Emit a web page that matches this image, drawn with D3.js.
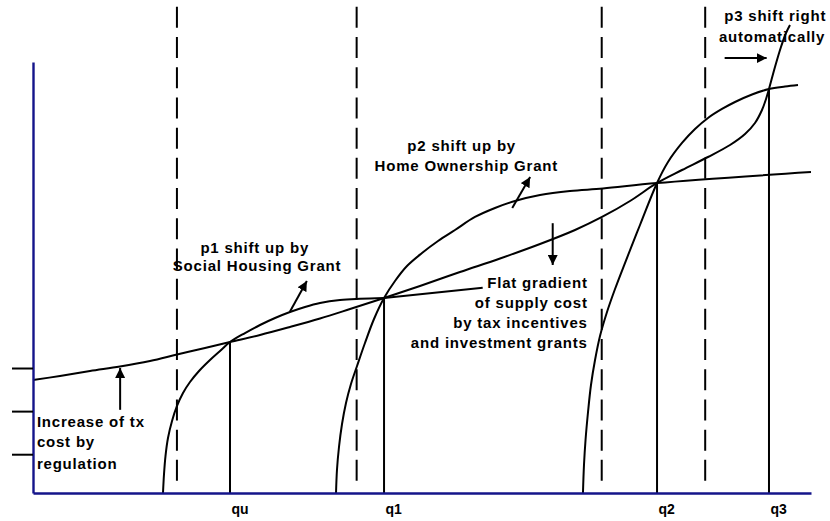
<!DOCTYPE html>
<html lang="en">
<head>
    <meta charset="UTF-8">
    <script src="https://d3js.org/d3.v7.min.js"></script>
    <title>Supply cost shifts</title>
    <style>
        body { margin: 0; background: #fff; }
        svg text {
            font-family: "Liberation Sans", Arial, sans-serif;
            font-size: 15px;
            font-weight: bold;
            letter-spacing: 0.8px;
            fill: #000;
        }
        .curve { fill: none; stroke: #000; stroke-width: 2; }
        .drop { stroke: #000; stroke-width: 2; }
        .dash { stroke: #000; stroke-width: 2; stroke-dasharray: 21 9.2; }
        .arrow { stroke: #000; stroke-width: 2; }
        .axis .domain { stroke: #14148a; stroke-width: 2.4; }
        .axis .tick line { stroke: #000; stroke-width: 2; }
        .axis .tick text { font-size: 14px; font-weight: bold; letter-spacing: 0; }
    </style>
</head>
<body>
<svg id="chart" width="830" height="521"></svg>
<script>
    // quantity (x) and cost (y) in arbitrary units, 0-100 on each axis
    const supplyBase = [[0, 26.22], [3.47, 27.15], [7.33, 28.31], [11.18, 29.35], [15.04, 30.63], [18.51, 32.13],
        [22.11, 33.64], [25.32, 35.03], [29.18, 36.66], [33.03, 38.52], [36.89, 40.49], [40.75, 42.69],
        [45.12, 45.24], [49.74, 48.03], [54.88, 51.28], [60.03, 54.41], [65.17, 57.77], [69.67, 61.02],
        [73.14, 64.04], [76.74, 67.75], [80.21, 71.93], [83.42, 74.94], [86.76, 77.96], [89.59, 80.74],
        [91.52, 83.29], [92.80, 85.85], [93.70, 88.86], [94.22, 91.42], [94.60, 93.74], [95.37, 98.84],
        [96.14, 103.48], [96.79, 106.73], [97.30, 108.58]];
    const p1Curve = [[16.71, 0], [16.84, 4.41], [17.03, 8.58], [17.35, 12.76], [17.87, 16.71], [18.51, 20.19],
        [19.28, 23.20], [20.18, 25.75], [21.34, 28.31], [22.75, 30.86], [24.04, 32.95], [25.32, 35.03],
        [27.25, 37.12], [29.18, 38.98], [31.11, 40.60], [33.03, 41.99], [34.96, 43.16], [36.89, 44.08],
        [39.46, 44.78], [42.03, 45.06], [45.12, 45.24]];
    const p2Curve = [[38.95, 0], [39.07, 5.34], [39.33, 10.67], [39.72, 16.01], [40.23, 20.88], [40.87, 25.29],
        [41.65, 29.47], [42.67, 34.80], [43.83, 40.37], [45.12, 45.24], [46.53, 49.19], [48.07, 52.67],
        [50.00, 55.68], [52.06, 58.47], [54.24, 61.02], [56.81, 64.04], [59.38, 66.13], [61.95, 67.75],
        [65.17, 69.14], [69.02, 70.07], [73.26, 70.65], [80.21, 71.93], [100, 74.48]];
    const p3Curve = [[70.69, 0], [70.82, 6.50], [71.02, 12.30], [71.34, 18.79], [71.72, 25.06], [72.24, 30.86],
        [72.88, 36.43], [73.78, 42.00], [74.81, 47.33], [76.09, 53.36], [78.02, 62.18], [80.21, 71.93],
        [81.62, 76.80], [83.42, 81.21], [85.09, 84.45], [86.76, 87.01], [88.56, 89.10], [90.23, 90.72],
        [92.42, 92.46], [94.60, 93.74], [96.66, 94.32], [98.33, 94.66]];

    const qNames = ["qu", "q1", "q2", "q3"];
    const qValues = [25.32, 45.12, 80.21, 94.60];
    const qCosts = [35.03, 45.24, 71.93, 93.74];
    const oldLimits = [18.5, 41.6, 73.1, 86.4];
    const costTicks = [9, 19, 29];

    const arrows = [
        [[11.2, 19.3], [11.2, 29.0]],
        [[33.0, 42.0], [35.2, 49.2]],
        [[61.6, 66.1], [63.9, 73.3]],
        [[66.8, 62.6], [66.8, 52.9]],
        [[88.9, 100.9], [94.3, 100.9]]
    ];
    const leader = [[45.12, 45.24], [57.8, 47.6]];

    const notes = [
        { text: "p1 shift up by", at: [28.5, 55.7], anchor: "middle" },
        { text: "Social Housing Grant", at: [28.8, 51.5], anchor: "middle" },
        { text: "p2 shift up by", at: [55.1, 79.4], anchor: "middle" },
        { text: "Home Ownership Grant", at: [55.7, 74.7], anchor: "middle" },
        { text: "Flat gradient", at: [71.3, 47.6], anchor: "end" },
        { text: "of supply cost", at: [71.3, 43.0], anchor: "end" },
        { text: "by tax incentives", at: [71.3, 38.3], anchor: "end" },
        { text: "and investment grants", at: [71.3, 33.6], anchor: "end" },
        { text: "p3 shift right", at: [95.4, 109.5], anchor: "middle" },
        { text: "automatically", at: [95.0, 104.6], anchor: "middle" },
        { text: "Increase of tx", at: [0.5, 15.3], anchor: "start" },
        { text: "cost by", at: [0.5, 10.6], anchor: "start" },
        { text: "regulation", at: [0.5, 5.6], anchor: "start" }
    ];

    const svg = d3.select("#chart");
    const x = d3.scaleLinear().domain([0, 100]).range([33, 811]);
    const y = d3.scaleLinear().domain([0, 100]).range([493, 62]);

    svg.append("defs").append("marker")
        .attr("id", "head")
        .attr("viewBox", "0 0 10 10")
        .attr("refX", 10).attr("refY", 5)
        .attr("markerWidth", 5).attr("markerHeight", 5)
        .attr("markerUnits", "strokeWidth")
        .attr("orient", "auto")
        .append("path").attr("d", "M0,0L10,5L0,10Z").attr("fill", "#000");

    // dashed limits
    svg.selectAll("line.dash").data(oldLimits).join("line")
        .attr("class", "dash")
        .attr("x1", d => x(d)).attr("x2", d => x(d))
        .attr("y1", y(112.8)).attr("y2", y(1.2));

    // drop lines at equilibrium quantities
    svg.selectAll("line.drop").data(qValues).join("line")
        .attr("class", "drop")
        .attr("x1", d => x(d)).attr("x2", d => x(d))
        .attr("y1", (d, i) => y(qCosts[i])).attr("y2", y(0));

    const line = d3.line().x(d => x(d[0])).y(d => y(d[1])).curve(d3.curveCatmullRom.alpha(0.5));
    [supplyBase, p1Curve, p2Curve, p3Curve].forEach(c => {
        svg.append("path").attr("class", "curve").attr("d", line(c));
    });
    svg.append("path").attr("class", "curve").attr("d", d3.line().x(d => x(d[0])).y(d => y(d[1]))(leader));

    svg.selectAll("line.arrow").data(arrows).join("line")
        .attr("class", "arrow")
        .attr("x1", d => x(d[0][0])).attr("y1", d => y(d[0][1]))
        .attr("x2", d => x(d[1][0])).attr("y2", d => y(d[1][1]))
        .attr("marker-end", "url(#head)");

    svg.selectAll("text.note").data(notes).join("text")
        .attr("class", "note")
        .attr("x", d => x(d.at[0])).attr("y", d => y(d.at[1]))
        .attr("text-anchor", d => d.anchor)
        .text(d => d.text);

    // axes
    svg.append("g").attr("class", "axis")
        .attr("transform", `translate(${x(0)},0)`)
        .call(d3.axisLeft(y).tickValues(costTicks).tickSize(21).tickSizeOuter(0).tickFormat(""));
    const xAxis = svg.append("g").attr("class", "axis")
        .attr("transform", `translate(0,${y(0)})`)
        .call(d3.axisBottom(x).tickValues(qValues).tickSize(0).tickSizeOuter(0)
            .tickFormat((d, i) => qNames[i]));
    xAxis.selectAll(".tick text").attr("text-anchor", "start").attr("dx", 1).attr("dy", "1.3em");
</script>
</body>
</html>
